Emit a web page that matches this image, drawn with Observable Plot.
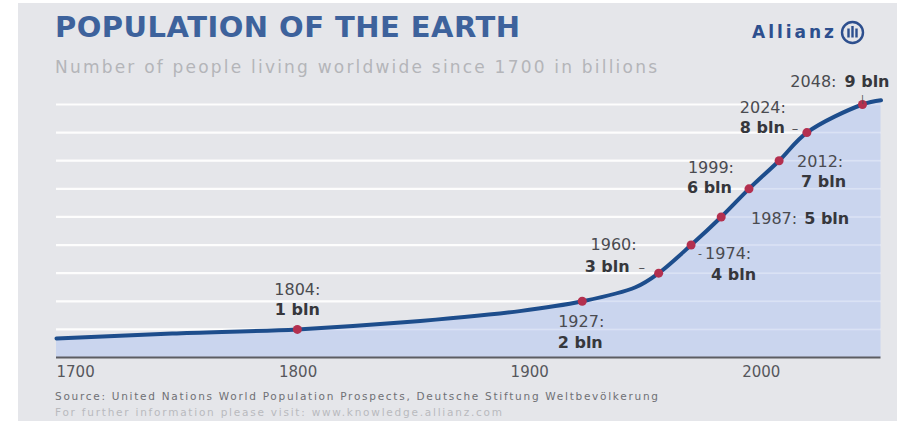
<!DOCTYPE html>
<html><head><meta charset="utf-8">
<script src="https://cdn.jsdelivr.net/npm/d3@7"></script>
<script src="https://cdn.jsdelivr.net/npm/@observablehq/plot@0.6"></script>
<style>
body{margin:0;background:#fff;font-family:"DejaVu Sans",sans-serif;}
#wrap{position:relative;width:897px;height:421px;overflow:hidden;background:#fff;}
#panel{position:absolute;left:18px;top:3px;width:879px;height:418px;background:#e5e6ea;}
.t{position:absolute;white-space:nowrap;line-height:1;}
#title{left:55px;top:13px;font-size:29px;font-weight:700;color:#3d629c;}
#subtitle{left:55px;top:59px;font-size:17px;color:#b4b5b9;}
#brand{left:752px;top:24px;font-size:17px;font-weight:700;color:#2d4f8e;}
#logo{position:absolute;left:840px;top:20px;}
#source{left:55px;top:391px;font-size:10.5px;color:#6f7075;}
#info{left:55px;top:407px;font-size:10.5px;color:#b9babe;}
#chart{position:absolute;left:0;top:75px;}
</style></head>
<body>
<div id="wrap">
  <div id="panel"></div>
  <div id="title" class="t">POPULATION OF THE EARTH</div>
  <div id="subtitle" class="t">Number of people living worldwide since 1700 in billions</div>
  <div id="brand" class="t">Allianz</div>
  <svg id="logo" width="25" height="25" viewBox="0 0 25 25"><circle cx="12.5" cy="12.5" r="10.5" fill="none" stroke="#2d4f8e" stroke-width="2.4"/><rect x="7.3" y="8.5" width="2.4" height="9" fill="#2d4f8e"/><rect x="11.3" y="6" width="2.4" height="11.5" fill="#2d4f8e"/><rect x="15.3" y="8.5" width="2.4" height="9" fill="#2d4f8e"/></svg>
  <div id="chart"></div>
  <div id="source" class="t">Source: United Nations World Population Prospects, Deutsche Stiftung Weltbevölkerung</div>
  <div id="info" class="t">For further information please visit: www.knowledge.allianz.com</div>
</div>
<script>
// ---- data ----
const years = [1700, 1750, 1804, 1850, 1900, 1927, 1950, 1960, 1974, 1987, 1999, 2012, 2024, 2048, 2056];
const population = [0.68, 0.85, 1.0, 1.25, 1.65, 2.0, 2.5, 3.0, 4.0, 5.0, 6.0, 7.0, 8.0, 9.0, 9.15];
const milestoneYears = [1804, 1927, 1960, 1974, 1987, 1999, 2012, 2024, 2048];
const milestoneValues = [1, 2, 3, 4, 5, 6, 7, 8, 9];
const milestoneYearLabels = ["1804:", "1927:", "1960:", "1974:", "1987:", "1999:", "2012:", "2024:", "2048:"];
const milestoneValueLabels = ["1 bln", "2 bln", "3 bln", "4 bln", "5 bln", "6 bln", "7 bln", "8 bln", "9 bln"];
const xTicks = [1700, 1800, 1900, 2000];
const xTickLabels = ["1700", "1800", "1900", "2000"];
const gridValues = [1, 2, 3, 4, 5, 6, 7, 8, 9];

const series = years.map((y, i) => ({year: y, pop: population[i]}));
const milestones = milestoneYears.map((y, i) => ({year: y, pop: milestoneValues[i], yl: milestoneYearLabels[i], vl: milestoneValueLabels[i]}));

// annotation layout (pixel offsets from each milestone dot)
const layout = [
  {a1:"middle", dx1:0,   dy1:-40, a2:"middle", dx2:0,   dy2:-20},
  {a1:"middle", dx1:-1,  dy1:21,  a2:"middle", dx2:-2,  dy2:42},
  {a1:"end",    dx1:-22, dy1:-28, a2:"end",    dx2:-29, dy2:-6, lead:{t:"–", dx:-17, dy:-5, fs:13}},
  {a1:"start",  dx1:14,  dy1:9,   a2:"start",  dx2:20,  dy2:30, lead:{t:"-", dx:9, dy:8, fs:11}},
  {a1:"end",    dx1:76,  dy1:2,   a2:"start",  dx2:83,  dy2:2},
  {a1:"end",    dx1:-15, dy1:-21, a2:"end",    dx2:-17, dy2:-1},
  {a1:"start",  dx1:18,  dy1:1,   a2:"start",  dx2:22,  dy2:21},
  {a1:"end",    dx1:-21, dy1:-25, a2:"end",    dx2:-22, dy2:-5, lead:{t:"–", dx:-12, dy:-4, fs:13}},
  {a1:"end",    dx1:-26, dy1:-23, a2:"start",  dx2:-18, dy2:-23, lead:{t:"|", dx:0, dy:-5, fs:9}}
];

const labelFont = "DejaVu Sans";
const labelMarks = [];
milestones.forEach((m, i) => {
  const L = layout[i];
  labelMarks.push(Plot.text([m], {x:"year", y:"pop", text:"yl", textAnchor:L.a1, dx:L.dx1, dy:L.dy1, fontSize:16, fill:"#4a4b50", fontFamily:labelFont, style:"letter-spacing:0.6px"}));
  labelMarks.push(Plot.text([m], {x:"year", y:"pop", text:"vl", textAnchor:L.a2, dx:L.dx2, dy:L.dy2, fontSize:16, fontWeight:700, fill:"#36373c", fontFamily:labelFont}));
  if (L.lead) labelMarks.push(Plot.text([m], {x:"year", y:"pop", text:() => L.lead.t, dx:L.lead.dx, dy:L.lead.dy, fontSize:L.lead.fs, fill:"#4a4b50", fontFamily:labelFont}));
});

const chart = Plot.plot({
  width: 897,
  height: 310,
  marginLeft: 56,
  marginRight: 16.5,
  marginTop: 29,
  marginBottom: 28,
  style: {background: "transparent", fontFamily: "DejaVu Sans", overflow: "visible"},
  x: {domain: [1700, 2056], axis: null},
  y: {domain: [0, 9], axis: null},
  marks: [
    Plot.ruleY(gridValues, {stroke: "#ffffff", strokeWidth: 2.2, strokeOpacity: 0.9}),
    Plot.areaY(series, {x: "year", y: "pop", fill: "#c6d1ef", fillOpacity: 0.85, curve: "catmull-rom"}),
    Plot.ruleY(gridValues, {stroke: "#ffffff", strokeWidth: 1.5, strokeOpacity: 0.25}),
    Plot.ruleY([0], {stroke: "#5c5d62", strokeWidth: 2}),
    Plot.line(series, {x: "year", y: "pop", stroke: "#1d4d8c", strokeWidth: 4, curve: "catmull-rom"}),
    Plot.dot(milestones, {x: "year", y: "pop", r: 4.5, fill: "#b3304f", stroke: "none"}),
    Plot.axisX(xTicks.slice(0, 1), {label: null, tickSize: 0, tickPadding: 9, textAnchor: "start", fontSize: 15, fill: "#56575c", tickFormat: (d) => xTickLabels[xTicks.indexOf(d)]}),
    Plot.axisX(xTicks.slice(1), {label: null, tickSize: 0, tickPadding: 9, textAnchor: "middle", dx: 10, fontSize: 15, fill: "#56575c", tickFormat: (d) => xTickLabels[xTicks.indexOf(d)]}),
    ...labelMarks
  ]
});
document.getElementById("chart").appendChild(chart);

// stretch header/footer texts to the widths seen in the reference
function fitWidth(id, target) {
  const el = document.getElementById(id);
  const n = el.textContent.length;
  const w = el.getBoundingClientRect().width;
  el.style.letterSpacing = ((target - w) / (n - 1)) + "px";
}
fitWidth("title", 465);
fitWidth("subtitle", 602);
fitWidth("source", 603);
fitWidth("info", 447);
fitWidth("brand", 82);
</script>
</body></html>
